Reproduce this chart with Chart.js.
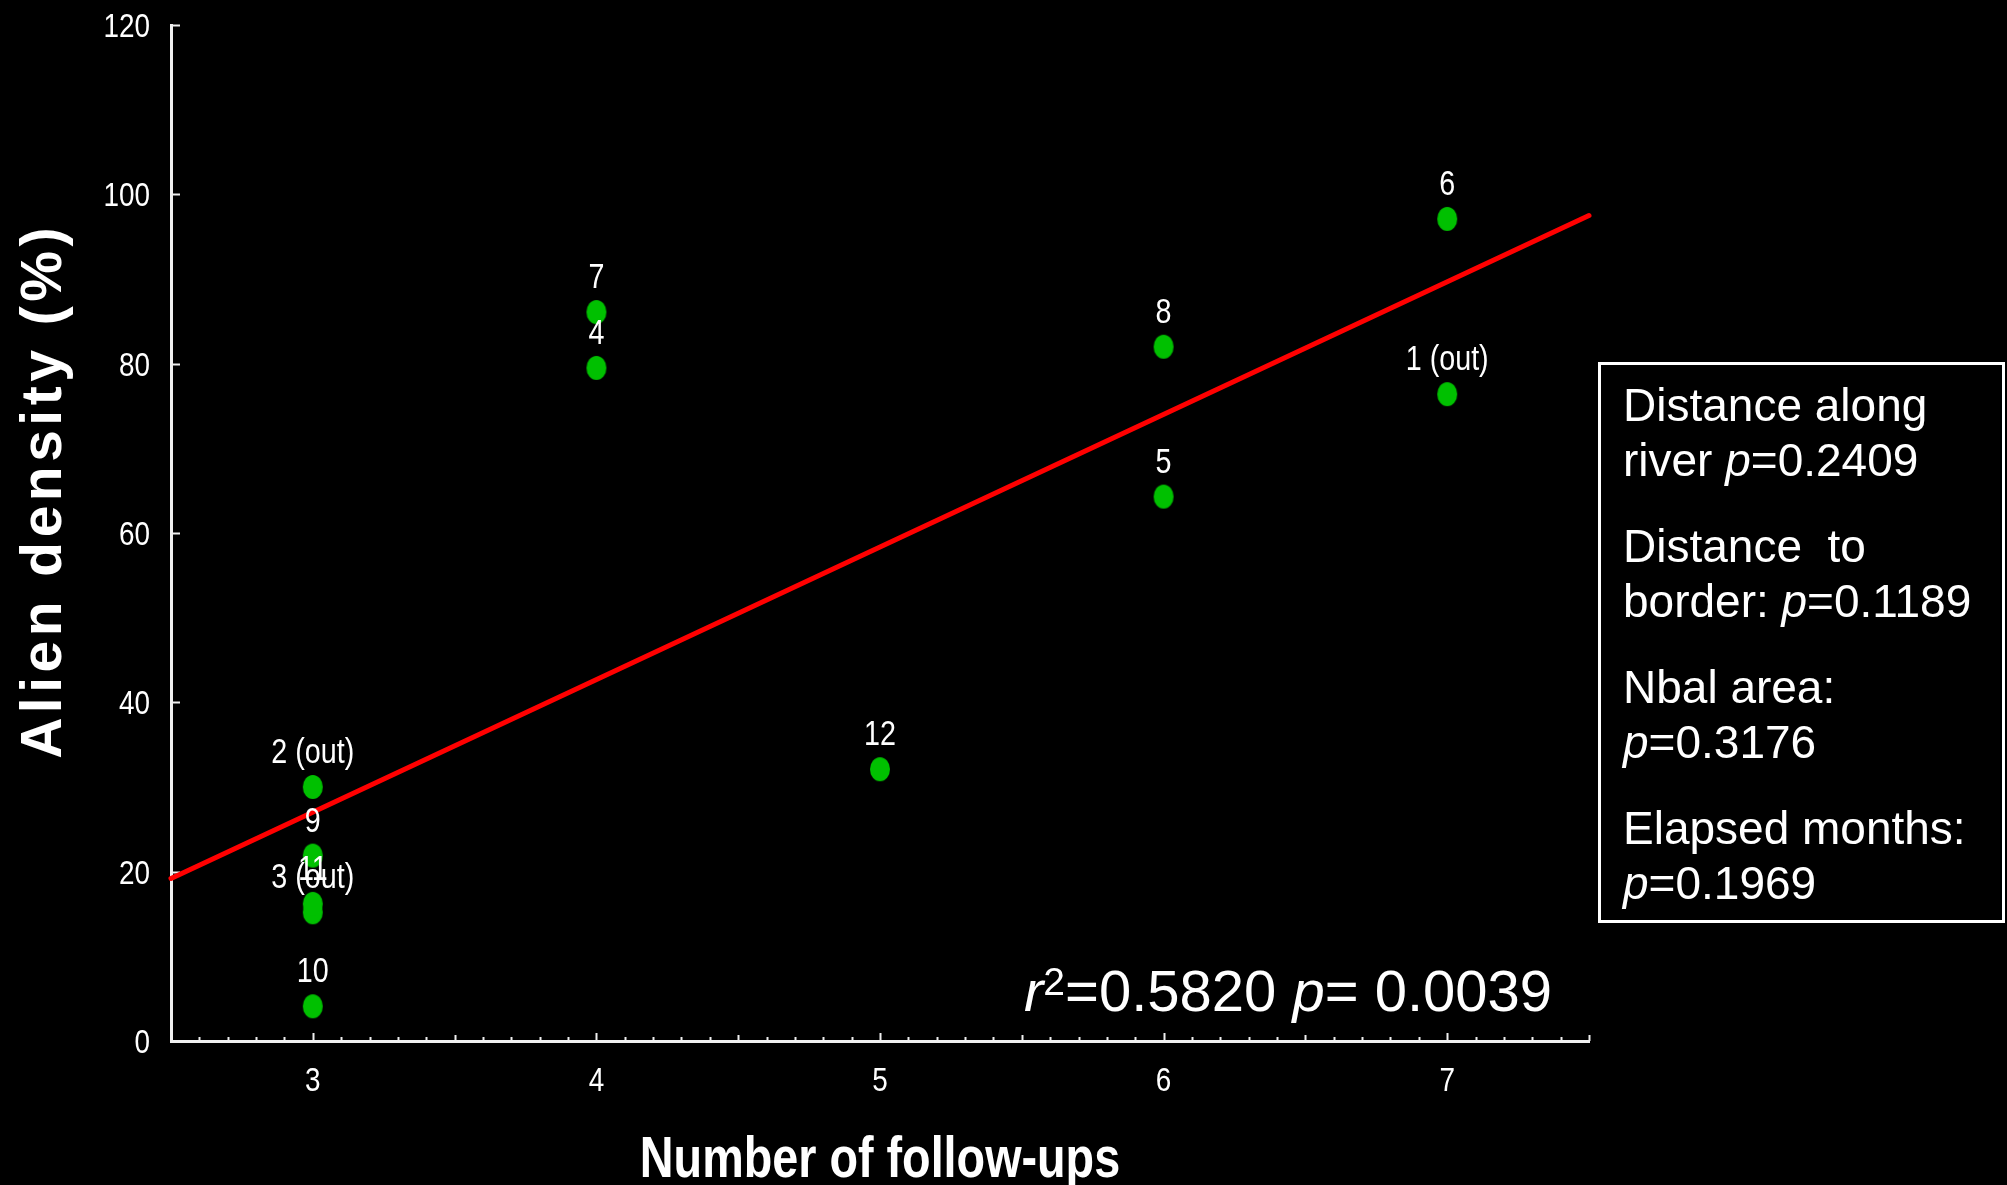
<!DOCTYPE html>
<html>
<head>
<meta charset="utf-8">
<script src="https://cdn.jsdelivr.net/npm/chart.js@4/dist/chart.umd.min.js"></script>
<style>
  html, body { margin: 0; padding: 0; background: #000; }
  #wrap { width: 2007px; height: 1185px; position: relative; }
</style>
</head>
<body>
<div id="wrap"><canvas id="chart"></canvas></div>
<script>
// Site observations: number of follow-ups vs. alien density (%)
const followUps    = [7, 3, 3, 4, 6, 7, 4, 6, 3, 3, 3, 5];
const alienDensity = [76.4, 30.0, 15.2, 79.5, 64.3, 97.1, 86.1, 82.0, 21.9, 4.1, 16.2, 32.1];
const siteLabels   = ['1 (out)', '2 (out)', '3 (out)', '4', '5', '6', '7', '8', '9', '10', '11', '12'];

// Fitted regression line (endpoints at the axis limits)
const fitX = [2.5, 7.5];
const fitY = [19.2, 97.5];
const fitR2 = '0.5820';
const fitP  = '0.0039';

// Axis ranges and tick steps
const xRange = [2.5, 7.5];
const xMinorStep = 0.1;
const yRange = [0, 120];
const yStep = 20;

// Other tested factors
const factorLine1 = ['Distance along', 'Distance  to', 'Nbal area:', 'Elapsed months:'];
const factorLine2 = ['river ', 'border: ', '', ''];
const factorP     = ['0.2409', '0.1189', '0.3176', '0.1969'];

const xTitle = 'Number of follow-ups';
const yTitle = 'Alien density (%)';

const WHITE = '#ffffff';
const AXIS = '#f0f0f0';
const GREEN = '#00c000';
const RED = '#ff0000';
const SANS = "'Liberation Sans', Arial, sans-serif";

function fontExists(name) {
  const c = document.createElement('canvas').getContext('2d');
  const t = 'mmmmmmmmmmlli0123456789WWW';
  let diff = false;
  for (const base of ['monospace', 'serif']) {
    c.font = '40px ' + base;
    const a = c.measureText(t).width;
    c.font = "40px '" + name + "', " + base;
    const b = c.measureText(t).width;
    if (a !== b) diff = true;
  }
  return diff;
}
const HAS_NARROW = fontExists('Liberation Sans Narrow');

// condensed text: real narrow face if installed, otherwise horizontally squeezed sans
function narrowText(ctx, text, x, y, size, bold, align) {
  ctx.save();
  ctx.fillStyle = WHITE;
  ctx.textAlign = align || 'center';
  ctx.textBaseline = 'alphabetic';
  if (HAS_NARROW) {
    ctx.font = (bold ? 'bold ' : '') + size + "px 'Liberation Sans Narrow'";
    ctx.fillText(text, x, y);
  } else {
    ctx.translate(x, y);
    ctx.scale(0.82, 1);
    ctx.font = (bold ? 'bold ' : '') + size + 'px ' + SANS;
    ctx.fillText(text, 0, 0);
  }
  ctx.restore();
}

// draws a run of [text, italic, size, rise] pieces left to right
function richText(ctx, parts, x, y) {
  let cx = x;
  ctx.save();
  ctx.fillStyle = WHITE;
  ctx.textAlign = 'left';
  ctx.textBaseline = 'alphabetic';
  for (const [text, italic, size, rise] of parts) {
    ctx.font = (italic ? 'italic ' : '') + size + 'px ' + SANS;
    ctx.fillText(text, cx, y - (rise || 0));
    cx += ctx.measureText(text).width;
  }
  ctx.restore();
}

// green elliptical marker
const marker = document.createElement('canvas');
marker.width = 22; marker.height = 26;
(() => {
  const m = marker.getContext('2d');
  m.fillStyle = GREEN;
  m.beginPath();
  m.ellipse(11, 13, 10, 12, 0, 0, Math.PI * 2);
  m.fill();
})();

const isWhole = v => Math.abs(v - Math.round(v)) < 1e-6;

const annotations = {
  id: 'annotations',
  beforeDatasetsDraw(chart) {
    const ctx = chart.ctx;
    const xs = chart.scales.x, ys = chart.scales.y;
    const area = chart.chartArea;
    ctx.save();
    ctx.strokeStyle = AXIS;
    ctx.lineWidth = 2;
    // inward tick marks on the x axis: long at integers, medium at halves, short otherwise
    for (const t of xs.ticks) {
      const px = Math.round(xs.getPixelForValue(t.value)) + 0.5;
      let len = 4;
      if (isWhole(t.value)) len = 8;
      else if (isWhole(t.value * 2)) len = 6;
      ctx.beginPath();
      ctx.moveTo(px, area.bottom);
      ctx.lineTo(px, area.bottom - len);
      ctx.stroke();
    }
    // inward tick marks on the y axis
    for (const t of ys.ticks) {
      const py = Math.round(ys.getPixelForValue(t.value)) + 0.5;
      ctx.beginPath();
      ctx.moveTo(area.left, py);
      ctx.lineTo(area.left + 9, py);
      ctx.stroke();
    }
    ctx.restore();

    // condensed tick labels
    for (const t of xs.ticks) {
      if (!isWhole(t.value)) continue;
      narrowText(ctx, String(Math.round(t.value)), xs.getPixelForValue(t.value), area.bottom + 50, 34, false, 'center');
    }
    for (const t of ys.ticks) {
      narrowText(ctx, String(t.value), area.left - 21, ys.getPixelForValue(t.value) + 12, 34, false, 'right');
    }
  },
  afterDatasetsDraw(chart) {
    const ctx = chart.ctx;
    const meta = chart.getDatasetMeta(0);
    // site labels above each marker
    meta.data.forEach((pt, i) => {
      narrowText(ctx, siteLabels[i], pt.x, pt.y - 24, 35, false, 'center');
    });

    // regression statistics
    richText(ctx, [
      ['r', true, 58, 0],
      ['2', false, 39, 16],
      ['=' + fitR2 + ' ', false, 58, 0],
      ['p', true, 58, 0],
      ['= ' + fitP, false, 58, 0]
    ], 1024, 1011);

    // axis titles
    const area = chart.chartArea;
    narrowText(ctx, xTitle, (area.left + area.right) / 2, 1177, 57, true, 'center');

    ctx.save();
    ctx.translate(61, 491);
    ctx.rotate(-Math.PI / 2);
    ctx.fillStyle = WHITE;
    ctx.font = 'bold 57px ' + SANS;
    ctx.letterSpacing = '4.5px';
    ctx.textAlign = 'center';
    ctx.textBaseline = 'alphabetic';
    ctx.fillText(yTitle, 0, 0);
    ctx.restore();

    // factor box
    ctx.save();
    ctx.strokeStyle = WHITE;
    ctx.lineWidth = 3;
    ctx.strokeRect(1599.5, 363.5, 404, 558);
    ctx.restore();
    const baseTop = 421, lineGap = 55, groupGap = 141;
    factorLine1.forEach((l1, i) => {
      const y1 = baseTop + i * groupGap;
      richText(ctx, [[l1, false, 46, 0]], 1623, y1);
      richText(ctx, [
        [factorLine2[i], false, 46, 0],
        ['p', true, 46, 0],
        ['=' + factorP[i], false, 46, 0]
      ], 1623, y1 + lineGap);
    });
  }
};

new Chart(document.getElementById('chart'), {
  type: 'scatter',
  data: {
    datasets: [
      {
        label: 'Sites',
        data: followUps.map((x, i) => ({ x: x, y: alienDensity[i] })),
        pointStyle: marker,
        pointRadius: 11,
        order: 0
      },
      {
        label: 'Fit',
        type: 'line',
        data: fitX.map((x, i) => ({ x: x, y: fitY[i] })),
        borderColor: RED,
        borderWidth: 5,
        borderCapStyle: 'round',
        pointRadius: 0,
        fill: false,
        clip: false,
        order: 1
      }
    ]
  },
  options: {
    responsive: true,
    maintainAspectRatio: false,
    animation: false,
    events: [],
    layout: { padding: { left: 0, top: 25, right: 418, bottom: 0 } },
    plugins: { legend: { display: false }, tooltip: { enabled: false } },
    scales: {
      x: {
        type: 'linear',
        min: xRange[0],
        max: xRange[1],
        grid: { display: false, drawTicks: false },
        border: { display: true, color: AXIS, width: 3 },
        ticks: { display: false, stepSize: xMinorStep, autoSkip: false, maxRotation: 0 },
        afterFit: s => { s.height = 144; }
      },
      y: {
        min: yRange[0],
        max: yRange[1],
        grid: { display: false, drawTicks: false },
        border: { display: true, color: AXIS, width: 3 },
        ticks: { display: false, stepSize: yStep },
        afterFit: s => { s.width = 171; }
      }
    }
  },
  plugins: [annotations]
});
</script>
</body>
</html>
